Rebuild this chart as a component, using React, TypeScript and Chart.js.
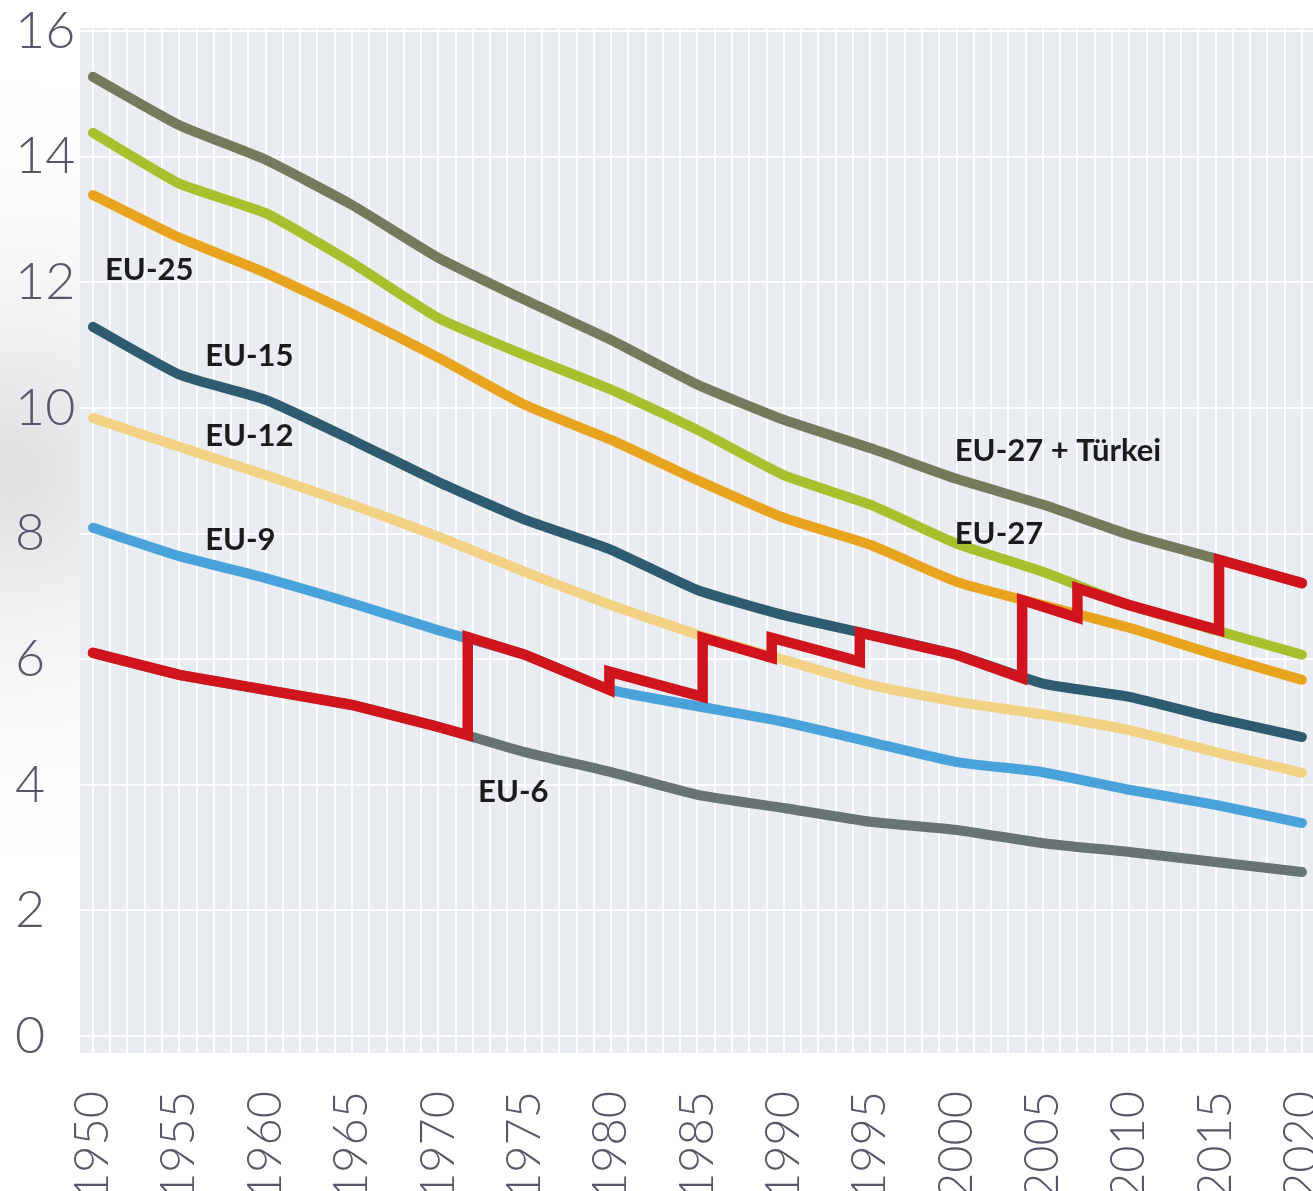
import React, { useEffect, useRef } from "react";
import { Chart, registerables } from "chart.js";

Chart.register(...registerables);

// ---- data ----
const YEARS = [1950, 1955, 1960, 1965, 1970, 1975, 1980, 1985, 1990, 1995, 2000, 2005, 2010, 2015, 2020];
const EU27_TR = [15.27, 14.5, 13.95, 13.23, 12.39, 11.72, 11.08, 10.37, 9.81, 9.36, 8.87, 8.46, 7.98, 7.6, 7.21];
const EU27 = [14.38, 13.57, 13.1, 12.31, 11.43, 10.84, 10.29, 9.65, 8.93, 8.46, 7.84, 7.39, 6.86, 6.46, 6.07];
const EU25 = [13.39, 12.71, 12.15, 11.5, 10.8, 10.05, 9.49, 8.85, 8.25, 7.82, 7.23, 6.86, 6.5, 6.07, 5.67];
const EU15 = [11.29, 10.53, 10.13, 9.49, 8.82, 8.22, 7.74, 7.1, 6.7, 6.39, 6.07, 5.61, 5.4, 5.06, 4.76];
const EU12 = [9.84, 9.38, 8.93, 8.46, 7.95, 7.39, 6.86, 6.39, 5.99, 5.59, 5.32, 5.12, 4.87, 4.52, 4.19];
const EU9 = [8.09, 7.64, 7.29, 6.89, 6.46, 6.07, 5.51, 5.25, 5.0, 4.68, 4.36, 4.2, 3.92, 3.68, 3.39];
const EU6 = [6.1, 5.75, 5.51, 5.27, 4.92, 4.52, 4.2, 3.84, 3.63, 3.41, 3.28, 3.07, 2.93, 2.77, 2.61];

// actual EU composition (red step line); repeated years mark enlargement jumps
const RED_YEARS = [1950, 1955, 1960, 1965, 1970, 1971.7, 1971.7, 1975, 1979.9, 1979.9, 1985.3, 1985.3, 1989.3, 1989.3, 1994.4, 1994.4, 2000, 2003.8, 2003.8, 2007, 2007, 2010, 2015.2, 2015.2, 2020];
const RED_VALUES = [6.1, 5.75, 5.51, 5.27, 4.92, 4.79, 6.35, 6.07, 5.51, 5.8, 5.4, 6.34, 6.02, 6.34, 5.96, 6.42, 6.07, 5.7, 6.94, 6.66, 7.13, 6.86, 6.46, 7.58, 7.21];

const X_LABEL_YEARS = [1950, 1955, 1960, 1965, 1970, 1975, 1980, 1985, 1990, 1995, 2000, 2005, 2010, 2015, 2020];
const Y_TICKS = [0, 2, 4, 6, 8, 10, 12, 14, 16];

const SERIES_LABELS = ["EU-25", "EU-15", "EU-12", "EU-9", "EU-6", "EU-27 + Türkei", "EU-27"];
const SERIES_LABEL_YEARS = [1950.7, 1956.5, 1956.5, 1956.5, 1972.3, 1999.9, 1999.9];
const SERIES_LABEL_VALUES = [12.2, 10.83, 9.55, 7.9, 3.885, 9.32, 7.99];

// ---- style ----
const PLOT_BG = "#e9edf1";
const GRID = "rgba(255,255,255,0.95)";
const AXIS_TEXT = "#56576a";

export default function App() {
  const ref = useRef<HTMLCanvasElement>(null);

  useEffect(() => {
    const canvas = ref.current!;
    const gridYears: number[] = [];
    for (let y = 1950; y <= 2020; y++) gridYears.push(y);

    const bgPlugin = {
      id: "bgPlot",
      beforeDraw(chart: any) {
        const { ctx, chartArea: a } = chart;
        ctx.save();
        ctx.fillStyle = "#ffffff";
        ctx.fillRect(0, 0, chart.width, chart.height);
        // soft grey haze at the left margin, as in the source picture
        const g = ctx.createRadialGradient(10, 470, 20, 10, 470, 420);
        g.addColorStop(0, "rgba(200,200,205,0.55)");
        g.addColorStop(1, "rgba(255,255,255,0)");
        ctx.fillStyle = g;
        ctx.fillRect(0, 0, a.left, chart.height);
        ctx.fillStyle = PLOT_BG;
        ctx.fillRect(a.left, a.top, a.right - a.left, a.bottom - a.top);
        ctx.restore();
      },
    };

    const labelPlugin = {
      id: "seriesLabels",
      afterDatasetsDraw(chart: any) {
        const { ctx, scales } = chart;
        ctx.save();
        ctx.font = "700 31px Lato, 'Open Sans', sans-serif";
        ctx.fillStyle = "#1b1b1b";
        ctx.textAlign = "left";
        ctx.textBaseline = "middle";
        SERIES_LABELS.forEach((t, i) => {
          ctx.fillText(t, scales.x.getPixelForValue(SERIES_LABEL_YEARS[i]), scales.y.getPixelForValue(SERIES_LABEL_VALUES[i]));
        });
        ctx.restore();
      },
    };

    const mk = (label: string, vals: number[], color: string) => ({
      label,
      data: YEARS.map((x, i) => ({ x, y: vals[i] })),
      borderColor: color,
      backgroundColor: color,
      borderWidth: 10,
      pointRadius: 0,
      borderCapStyle: "round",
      borderJoinStyle: "round",
      tension: 0.15,
      fill: false,
    });

    const red = {
      label: "EU",
      data: RED_YEARS.map((x, i) => ({ x, y: RED_VALUES[i] })),
      borderColor: "#d0141d",
      backgroundColor: "#d0141d",
      borderWidth: 10.5,
      pointRadius: 0,
      borderCapStyle: "round",
      borderJoinStyle: "miter",
      tension: 0,
      fill: false,
      order: 0,
    };

    const datasets: any[] = [
      red,
      { ...mk("EU-27 + Türkei", EU27_TR, "#77795c"), order: 1 },
      { ...mk("EU-27", EU27, "#a7c02d"), order: 1 },
      { ...mk("EU-25", EU25, "#e9a41f"), order: 1 },
      { ...mk("EU-15", EU15, "#2f5b70"), order: 1 },
      { ...mk("EU-12", EU12, "#f2d285"), order: 1 },
      { ...mk("EU-9", EU9, "#49a3da"), order: 1 },
      { ...mk("EU-6", EU6, "#687374"), order: 1 },
    ];

    const chart = new Chart(canvas, {
      type: "line",
      data: { datasets },
      options: {
        animation: false,
        responsive: false,
        devicePixelRatio: 1,
        layout: { padding: { left: 15, top: 28, right: 0, bottom: 0 } },
        plugins: { legend: { display: false }, tooltip: { enabled: false } },
        scales: {
          x: {
            type: "linear",
            min: 1949.25,
            max: 2020.64,
            afterBuildTicks: (s: any) => {
              s.ticks = gridYears.map((v) => ({ value: v }));
            },
            afterFit: (s: any) => {
              s.height = 138;
              s.paddingLeft = 0;
              s.paddingRight = 0;
            },
            grid: { color: GRID, lineWidth: 2, drawTicks: false },
            border: { display: false },
            ticks: {
              autoSkip: false,
              minRotation: 90,
              maxRotation: 90,
              padding: 38,
              color: AXIS_TEXT,
              font: { family: "Lato, 'Open Sans', sans-serif", size: 47, weight: 300 },
              callback: (v: any) => (X_LABEL_YEARS.includes(Number(v)) ? String(v) : ""),
            },
          },
          y: {
            type: "linear",
            min: -0.2707,
            max: 16.048,
            afterBuildTicks: (s: any) => {
              s.ticks = Y_TICKS.map((v) => ({ value: v }));
            },
            afterFit: (s: any) => {
              s.width = 65;
              s.paddingTop = 0;
              s.paddingBottom = 0;
            },
            grid: { color: GRID, lineWidth: 2, drawTicks: false },
            border: { display: false },
            ticks: {
              autoSkip: false,
              crossAlign: "far",
              padding: 0,
              color: AXIS_TEXT,
              font: { family: "Lato, 'Open Sans', sans-serif", size: 52, weight: 300 },
              callback: (v: any) => String(v),
            },
          },
        },
      },
      plugins: [bgPlugin, labelPlugin],
    } as any);

    return () => chart.destroy();
  }, []);

  return (
    <div style={{ position: "fixed", left: 0, top: 0, width: 1313, height: 1191, overflow: "hidden", background: "#fff" }}>
      <canvas ref={ref} width={1313} height={1191} style={{ display: "block", width: 1313, height: 1191 }} />
    </div>
  );
}
